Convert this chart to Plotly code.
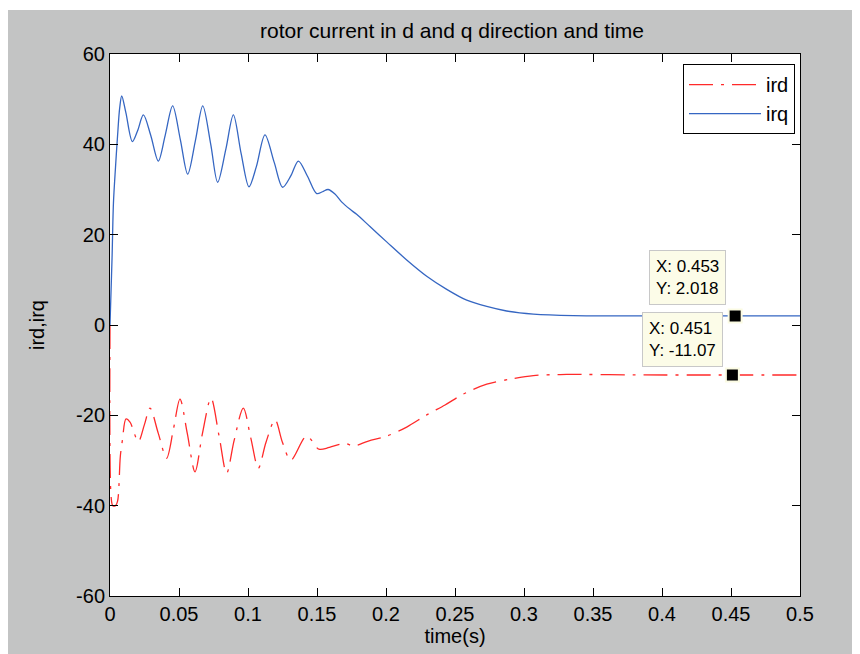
import plotly.graph_objects as go

# rotor current
time_irq = [0, 0.0005, 0.0015, 0.0025, 0.004, 0.0055, 0.007, 0.0085, 0.0115, 0.0162,
            0.020, 0.0242, 0.0295, 0.035, 0.040, 0.0454, 0.051, 0.0563, 0.062, 0.0672,
            0.073, 0.078, 0.084, 0.0894, 0.095, 0.1007, 0.106, 0.1123, 0.119, 0.1251,
            0.131, 0.1365, 0.143, 0.1498, 0.154, 0.158, 0.163, 0.168, 0.174, 0.1787,
            0.1884, 0.2005, 0.215, 0.2295, 0.244, 0.2585, 0.273, 0.2874, 0.3068, 0.3357,
            0.38, 0.45, 0.5]
irq = [0, 5, 15, 27, 35, 42, 48, 50.7, 47, 40.6,
       43, 46.5, 42, 36.3, 42, 48.5, 41, 33.4, 41, 48.5,
       40, 31.6, 39, 46.5, 38, 30.6, 35, 42.1, 36, 30.5,
       33, 36.3, 33, 29.1, 29.5, 30, 29.0, 27.2, 25.6, 24.5,
       21.8, 18.4, 14.4, 10.8, 7.9, 5.5, 4.1, 3.1, 2.4, 2.06,
       2.02, 2.018, 2.018]

time_ird = [0, 0.0008, 0.002, 0.004, 0.0055, 0.0075, 0.009, 0.0116, 0.0145, 0.0205,
            0.025, 0.029, 0.035, 0.041, 0.046, 0.0507, 0.056, 0.0616, 0.067, 0.0732,
            0.079, 0.0845, 0.090, 0.0966, 0.102, 0.1075, 0.113, 0.1196, 0.125, 0.131,
            0.1425, 0.1514, 0.159, 0.1703, 0.1763, 0.1872, 0.2005, 0.215, 0.2295, 0.2428,
            0.256, 0.273, 0.2899, 0.3068, 0.3309, 0.38, 0.45, 0.5]
ird = [0, -38, -40, -40, -39, -29, -25.5, -20.8, -21.5, -25.8,
       -22, -18.4, -24, -29.5, -23, -16.4, -24, -32.5, -24, -16.2,
       -24.5, -32.8, -25.5, -18.4, -25, -31.7, -26, -21, -26, -29.9,
       -24.6, -27.5, -27.1, -26.2, -26.8, -25.7, -24.6, -22.6, -19.9, -17.7,
       -15.3, -13.1, -12.0, -11.2, -10.95, -11.05, -11.07, -11.07]

# data cursors
tip_x = [0.453, 0.451]
tip_y = [2.018, -11.07]
tip_text = ["X: 0.453<br>Y: 2.018", "X: 0.451<br>Y: -11.07"]

x_ticks = [0, 0.05, 0.1, 0.15, 0.2, 0.25, 0.3, 0.35, 0.4, 0.45, 0.5]
x_tick_labels = ["0", "0.05", "0.1", "0.15", "0.2", "0.25", "0.3", "0.35", "0.4", "0.45", "0.5"]
y_ticks = [-60, -40, -20, 0, 20, 40, 60]
y_tick_labels = ["-60", "-40", "-20", "0", "20", "40", "60"]

FONT = "Liberation Sans, Arial, sans-serif"
GREY = "#c3c4c4"

# the page body adds 8px around the figure, so the figure is 8px smaller each way
W, H = 852, 646

fig = go.Figure()

fig.add_trace(go.Scatter(x=time_ird, y=ird, name="ird", mode="lines",
                         line=dict(color="#ff2a2a", width=1.3, dash="24px,8px,3px,8px", shape="spline", smoothing=0.9)))
fig.add_trace(go.Scatter(x=time_irq, y=irq, name="irq", mode="lines",
                         line=dict(color="#3566c2", width=1.3, shape="spline", smoothing=0.9)))

# black squares of the data cursors
fig.add_trace(go.Scatter(x=tip_x, y=tip_y, mode="markers", showlegend=False, hoverinfo="skip",
                         marker=dict(symbol="square", size=13, color="black",
                                     line=dict(color="#fbfbe3", width=2))))

shifts = [(-9, 11), (-9, 8)]
for i in range(len(tip_x)):
    fig.add_annotation(x=tip_x[i], y=tip_y[i], text=tip_text[i], showarrow=False,
                       xanchor="right", yanchor="bottom", align="left",
                       xshift=shifts[i][0], yshift=shifts[i][1],
                       font=dict(family=FONT, size=17, color="black"),
                       bgcolor="#fcfce8", bordercolor="#c8c8c8", borderwidth=1, borderpad=6)

# thin white strip above the grey figure window
fig.add_shape(type="rect", xref="paper", yref="paper", x0=-0.2, x1=1.2, y0=1.0812, y1=1.2,
              fillcolor="white", line_width=0, layer="above")

axis_style = dict(showline=True, linecolor="black", linewidth=1, mirror="allticks",
                  ticks="inside", ticklen=8, tickcolor="black", tickwidth=1,
                  showgrid=False, zeroline=False, automargin=False,
                  tickfont=dict(family=FONT, size=20, color="black"))

fig.update_xaxes(range=[0, 0.5], tickvals=x_ticks, ticktext=x_tick_labels,
                 title=dict(text="time(s)", font=dict(family=FONT, size=20, color="black"), standoff=1),
                 **axis_style)
fig.update_yaxes(range=[-60, 60], tickvals=y_ticks, ticktext=y_tick_labels,
                 title=dict(text="ird,irq", font=dict(family=FONT, size=20, color="black"), standoff=26),
                 **axis_style)

fig.update_layout(
    width=W, height=H,
    margin=dict(l=102, r=60, t=46, b=58, autoexpand=False),
    paper_bgcolor=GREY, plot_bgcolor="white",
    title=dict(text="rotor current in d and q direction and time", x=444 / W, xanchor="center",
               y=1 - 23 / H, yanchor="middle", yref="container",
               font=dict(family=FONT, size=21, color="black")),
    legend=dict(x=(787 - 102) / 690, y=0.9815, xanchor="right", yanchor="top",
                bgcolor="white", bordercolor="black", borderwidth=1,
                font=dict(family=FONT, size=20, color="black"), itemwidth=72,
                tracegroupgap=4),
    showlegend=True,
)

fig.write_html("out.html")
